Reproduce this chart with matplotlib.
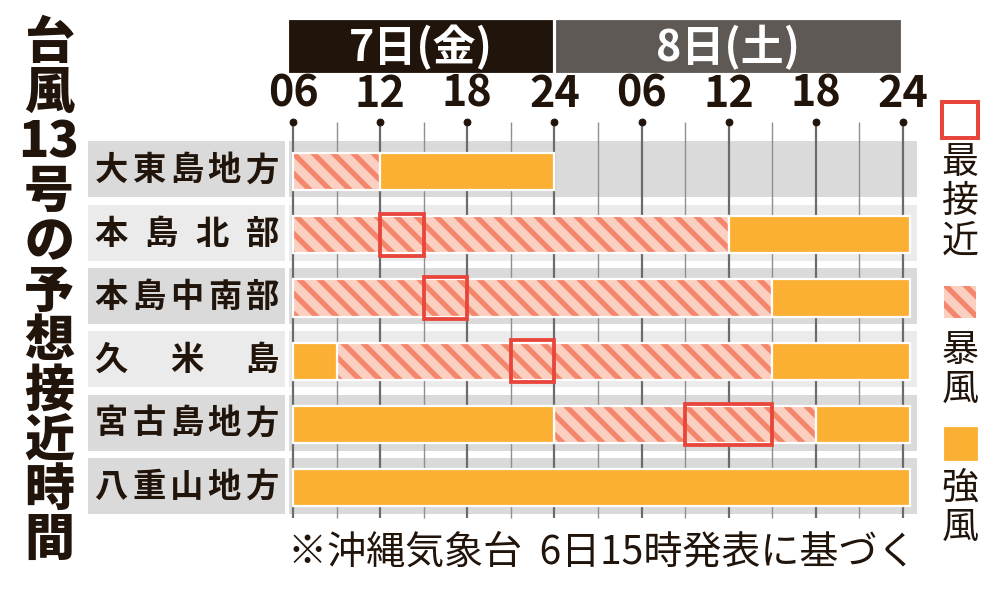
import matplotlib
matplotlib.use("Agg")
import matplotlib.pyplot as plt
from matplotlib.patches import Rectangle

DPI = 60
W, H = 1000, 593


def pt(px):
    # pixel size -> points at the chosen dpi
    return px * 72 / DPI


plt.rcParams['font.family'] = ['Noto Sans CJK JP', 'DejaVu Sans']
plt.rcParams['hatch.linewidth'] = pt(5.3)

## data ##
regions = ['大東島地方', '本島北部', '本島中南部', '久米島', '宮古島地方', '八重山地方']
# hours counted from 7th 00:00 (6 = 7th 06h, 48 = 8th 24h)
storm_spans = [[(6, 12)], [(6, 36)], [(6, 39)], [(9, 39)], [(24, 42)], []]
gale_spans = [[(12, 24)], [(36, 48.5)], [(39, 48.5)], [(6, 9), (39, 48.5)],
              [(6, 24), (42, 48.5)], [(6, 48.5)]]
closest = [None, (12, 15), (15, 18), (21, 24), (33, 39), None]
tick_hours = [6, 12, 18, 24, 30, 36, 42, 48]
tick_labels = ['06', '12', '18', '24', '06', '12', '18', '24']
day_labels = ['7日(金)', '8日(土)']
day_spans = [(6, 24), (24, 48)]
title_cells = ['台', '風', '13', '号', 'の', '予', '想', '接', '近', '時', '間']
legend_labels = ['最接近', '暴風', '強風']
note = '※沖縄気象台  6日15時発表に基づく'

## colours ##
ORANGE = '#fbb034'
STRIPE = '#f3866c'
STRIPE_BG = '#fbd0c0'
RED = '#e8453b'
DARK = '#21140b'
band_colors = ['#dadada', '#ebebeb', '#dadada', '#ebebeb', '#dadada', '#dadada']

fig = plt.figure(figsize=(W / DPI, H / DPI), dpi=DPI)
ax = fig.add_axes([88 / W, 1 - 520 / H, 829 / W, (520 - 122) / H])
ax.set_xlim(-8.115, 48.964)
ax.set_ylim(5.537, -0.75)
ax.axis('off')

# row bands + label boxes
for i, name in enumerate(regions):
    c = band_colors[i]
    ax.barh(i, 48.964 - 5.725, left=5.725, height=0.885, color=c, zorder=0)
    ax.barh(i, 5.45 + 8.115, left=-8.115, height=0.885, color=c, zorder=0)
    n = len(name)
    for k, ch in enumerate(name):
        xk = -6.53 + k * (3.87 + 6.53) / (n - 1)
        ax.text(xk, i + 0.02, ch, ha='center', va='center', fontsize=pt(33.3),
                fontweight='bold', color=DARK)

# grid lines
for h in range(6, 49, 3):
    major = h % 6 == 0
    ax.vlines(h, -0.75, 5.5, color='#6b6b6b' if major else '#8f8f8f',
              lw=pt(2.2) if major else pt(1.4), zorder=1)
ax.scatter(tick_hours, [-0.75] * len(tick_hours), s=pt(7) ** 2, color=DARK,
           zorder=3, clip_on=False)
for h, lab in zip(tick_hours, tick_labels):
    ax.text(h, -1.2, lab, ha='center', va='center', fontsize=pt(43),
            fontweight='bold', color=DARK)

# day headers
for (d0, d1), lab, c in zip(day_spans, day_labels, [DARK, '#5f5955']):
    x0 = d0 - 0.28 if d0 == 6 else d0 + 0.14
    x1 = d1 - 0.14 if d1 == 24 else d1 - 0.2
    ax.add_patch(Rectangle((x0, -2.36), x1 - x0, 0.82, color=c, clip_on=False))
    ax.text((x0 + x1) / 2, -1.93, lab, ha='center', va='center', fontsize=pt(43),
            fontweight='bold', color='white')

# bars
BAR_H = 0.585
for i in range(len(regions)):
    for a, b in storm_spans[i]:
        ax.barh(i + 0.03, b - a, left=a, height=BAR_H, color=STRIPE_BG,
                edgecolor=STRIPE, linewidth=0, hatch='\\', zorder=2)
        ax.barh(i + 0.03, b - a, left=a, height=BAR_H, fill=False,
                edgecolor='white', linewidth=pt(2.2), zorder=2)
    for a, b in gale_spans[i]:
        ax.barh(i + 0.03, b - a, left=a, height=BAR_H, color=ORANGE,
                edgecolor='white', linewidth=pt(2.2), zorder=2)
    if closest[i]:
        a, b = closest[i]
        ax.add_patch(Rectangle((a, i + 0.03 - 0.33), b - a, 0.66, fill=False,
                               edgecolor=RED, lw=pt(3.8), zorder=4))

## overlay in pixel space for title / legend / note ##
ov = fig.add_axes([0, 0, 1, 1])
ov.set_xlim(0, W)
ov.set_ylim(H, 0)
ov.axis('off')

for k, cell in enumerate(title_cells):
    ov.text(49, 43 + 49.7 * k, cell, ha='center', va='center', fontsize=pt(50),
            fontweight='heavy', color=DARK)

# legend
ov.add_patch(Rectangle((942, 102), 36, 36, fill=False, edgecolor=RED, lw=pt(4)))
ov.add_patch(Rectangle((944, 286), 32, 32, facecolor=STRIPE_BG, edgecolor=STRIPE,
                       lw=0, hatch='\\'))
ov.add_patch(Rectangle((944, 427), 33, 33, color=ORANGE))
legend_y = [162, 350, 488]
for lab, y0 in zip(legend_labels, legend_y):
    for k, ch in enumerate(lab):
        ov.text(960, y0 + 39.5 * k, ch, ha='center', va='center', fontsize=pt(37),
                color=DARK)

ov.text(602, 553, note, ha='center', va='center', fontsize=pt(39), color=DARK)

fig.savefig('out.png', dpi=DPI, facecolor='white')
